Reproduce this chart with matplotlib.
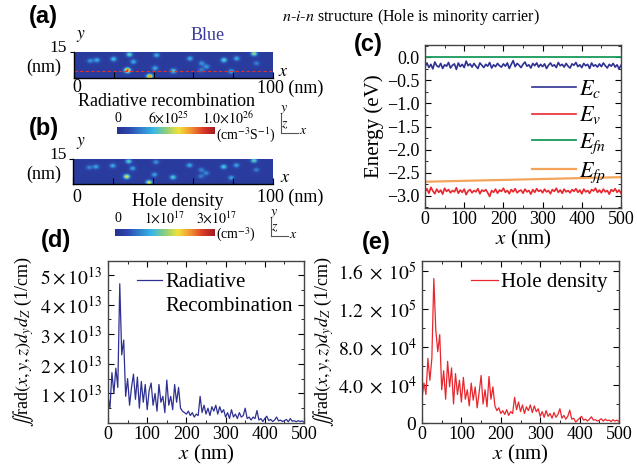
import numpy as np
import matplotlib
matplotlib.use('Agg')
from matplotlib import pyplot as plt
from matplotlib.colors import LinearSegmentedColormap
from matplotlib.lines import Line2D
from matplotlib.ticker import MultipleLocator, FixedLocator

plt.rcParams['font.family'] = ['Liberation Serif', 'DejaVu Serif']
plt.rcParams['mathtext.fontset'] = 'stix'

W, H = 637, 475

# hot spots in the 100 x 15 nm slice (nm), and their strength in each map
hot_x = [26.8, 38.0, 27.8, 19.8, 11.4, 8.0, 29.8, 41.5, 40.7, 50.0, 58.3, 64.2, 66.7, 75.4, 81.8, 79.2, 90.6, 91.8, 64.0]
hot_y = [4.4, 0.8, 13.7, 11.0, 10.4, 10.0, 9.4, 13.3, 5.6, 4.0, 11.3, 8.5, 6.5, 10.4, 11.3, 3.7, 14.2, 8.5, 4.6]
rad_amp = [0.85, 0.75, 0.42, 0.35, 0.30, 0.25, 0.30, 0.30, 0.30, 0.40, 0.30, 0.25, 0.25, 0.40, 0.30, 0.30, 0.50, 0.20, 0.20]
hole_amp = [0.62, 0.60, 0.40, 0.30, 0.28, 0.22, 0.28, 0.25, 0.28, 0.38, 0.30, 0.22, 0.22, 0.38, 0.28, 0.28, 0.42, 0.20, 0.20]

# band edges (eV) along x, 0..500 nm
ec = [-0.20, -0.12, -0.22, -0.15, -0.25, -0.10, -0.18, -0.21, -0.13, -0.24, -0.16, -0.19, -0.11, -0.23, -0.17,
      -0.14, -0.26, -0.12, -0.20, -0.15, -0.22, -0.08, -0.18, -0.14, -0.21, -0.13, -0.19, -0.24, -0.12, -0.17,
      -0.22, -0.15, -0.19, -0.11, -0.23, -0.16, -0.20, -0.13, -0.18, -0.21, -0.14, -0.19, -0.12, -0.24, -0.15,
      -0.07, -0.20, -0.13, -0.17, -0.22, -0.15, -0.10, -0.19, -0.16, -0.23, -0.13, -0.18, -0.12, -0.21, -0.15,
      -0.20, -0.14, -0.24, -0.17, -0.12, -0.19, -0.16, -0.22, -0.11, -0.18, -0.15, -0.21, -0.13, -0.19, -0.23,
      -0.14, -0.17, -0.11, -0.20, -0.16, -0.22, -0.13, -0.18, -0.15, -0.24, -0.12, -0.19, -0.16, -0.21, -0.14,
      -0.20, -0.12, -0.18, -0.23, -0.15, -0.19, -0.13, -0.21, -0.16, -0.25, -0.17]
ev = [-2.92, -2.85, -2.95, -2.82, -2.90, -2.96, -2.86, -2.93, -2.88, -2.97, -2.84, -2.91, -2.87, -2.94, -2.89,
      -2.92, -2.83, -2.95, -2.88, -2.93, -2.86, -2.98, -2.90, -2.87, -2.94, -2.89, -2.92, -2.85, -2.96, -2.88,
      -2.91, -2.87, -2.94, -3.02, -2.89, -2.93, -2.86, -2.95, -2.88, -2.91, -2.84, -2.93, -2.89, -2.96, -2.87,
      -2.92, -2.85, -2.94, -2.90, -2.88, -2.95, -2.86, -2.92, -2.89, -2.97, -2.87, -2.93, -2.85, -2.91, -2.88,
      -2.94, -2.86, -2.92, -2.89, -2.96, -2.87, -2.91, -2.84, -2.93, -2.88, -2.95, -2.86, -2.92, -2.89, -2.94,
      -2.87, -2.91, -2.85, -2.93, -2.88, -2.96, -2.86, -2.92, -2.89, -2.95, -2.87, -2.90, -2.84, -2.93, -2.88,
      -2.94, -2.86, -2.92, -2.89, -2.97, -2.87, -2.91, -2.85, -2.93, -2.88, -2.95]
fermi_x = [0, 500]
efn = [0.0, 0.0]
efp = [-2.70, -2.60]

# integrated profiles, 0..500 nm every 5 nm
rad_profile = [0.9, 0.5, 1.7, 1.0, 1.85, 1.2, 4.7, 2.3, 2.8, 0.9, 1.5, 0.6, 1.2, 1.65, 0.8, 1.55, 0.5, 1.4, 0.7, 1.3,
               0.45, 1.1, 1.35, 0.6, 1.0, 0.4, 1.3, 0.7, 0.9, 0.35, 1.45, 0.6, 0.9, 0.45, 1.3, 0.7, 1.2, 0.5, 0.4, 0.35,
               0.3, 0.4, 0.25, 0.35, 0.2, 0.3, 0.25, 0.9, 0.35, 0.6, 0.3, 0.5, 0.25, 0.55, 0.4, 0.6, 0.3, 0.55, 0.35, 0.45,
               0.2, 0.35, 0.15, 0.45, 0.2, 0.3, 0.15, 0.35, 0.2, 0.25, 0.5, 0.15, 0.2, 0.1, 0.2, 0.15, 0.42, 0.1, 0.15, 0.05,
               0.15, 0.23, 0.08, 0.12, 0.05, 0.1, 0.2, 0.07, 0.1, 0.05, 0.08, 0.12, 0.04, 0.15, 0.06, 0.08, 0.04, 0.08, 0.05,
               0.07, 0.03]  # x 1e13
hole_profile = [2.6, 4.2, 3.0, 6.8, 4.5, 6.8, 15.2, 9.8, 7.5, 9.3, 3.5, 5.5, 2.5, 6.5, 3.8, 5.8, 2.0, 5.2, 3.0, 4.5,
                2.2, 4.8, 2.5, 3.5, 1.8, 4.2, 2.4, 3.8, 1.6, 3.2, 5.0, 2.0, 3.5, 1.7, 4.9, 2.5, 3.8, 1.8, 1.3, 1.6,
                1.0, 1.3, 0.9, 1.4, 0.8, 1.2, 1.0, 2.7, 1.4, 2.2, 1.2, 1.9, 1.0, 1.7, 1.3, 1.9, 1.1, 1.8, 1.2, 1.5,
                0.7, 1.2, 0.6, 1.3, 0.7, 1.0, 0.5, 1.1, 0.6, 0.9, 1.5, 0.5, 0.8, 0.4, 0.7, 1.35, 0.4, 0.5, 0.1, 0.3,
                0.5, 0.7, 0.3, 0.4, 0.2, 0.4, 0.65, 0.3, 0.35, 0.2, 0.3, 0.45, 0.2, 0.4, 0.25, 0.3, 0.15, 0.35, 0.2,
                0.3, 0.15]  # x 1e4

cmap = LinearSegmentedColormap.from_list('jetlike', [
    (0.0, '#28308c'), (0.12, '#2c48b0'), (0.37, '#38b8e8'), (0.5, '#8ccf7c'),
    (0.63, '#f2e23c'), (0.76, '#f29030'), (0.88, '#dc3a2a'), (1.0, '#a01c20')])

fig = plt.figure(figsize=(6.37, 4.75), dpi=100)


def box(l, t, r, b):
    return [l / W, 1 - b / H, (r - l) / W, (b - t) / H]


def put(x, y, s, **kw):
    kw.setdefault('ha', 'center')
    kw.setdefault('va', 'center')
    fig.text(x / W, 1 - y / H, s, **kw)


def seg(x1, y1, x2, y2):
    fig.add_artist(Line2D([x1 / W, x2 / W], [1 - y1 / H, 1 - y2 / H], transform=fig.transFigure,
                          color='#555555', lw=0.8))


def slice_map(rect, amps, top, dashed=False):
    ax = fig.add_axes(rect)
    gx = np.linspace(0, 100, 400)
    gy = np.linspace(0, 15, 60)
    X, Y = np.meshgrid(gx, gy)
    Z = np.full_like(X, 0.06)
    for hx, hy, a in zip(hot_x, hot_y, amps):
        Z += a * np.exp(-((X - hx) ** 2 / 2.4 + (Y - hy) ** 2 / 2.0))
    ax.imshow(np.clip(Z, 0, 1), extent=[0, 100, 0, 15], origin='lower', aspect='auto',
              cmap=cmap, vmin=0, vmax=1, interpolation='bilinear')
    if dashed:
        ax.axhline(4.0, color='#e03030', ls=(0, (3, 2)), lw=0.8)
    for s in ('top', 'right'):
        ax.spines[s].set_visible(False)
    ax.spines['left'].set_linewidth(1.0)
    ax.spines['bottom'].set_linewidth(1.0)
    ax.set_xlim(0, 100)
    ax.set_ylim(0, 15)
    ax.set_xticks([0, 20, 40, 60, 80, 100])
    ax.set_yticks([15])
    ax.tick_params(axis='x', direction='in', length=4, labelbottom=False)
    ax.tick_params(axis='y', direction='out', length=3, labelleft=False)
    put(58, top - 4, '15', fontsize=12.5)
    put(44, top + 15, '(nm)', fontsize=13)
    put(81, top - 16, '$y$', fontsize=12.5)
    return ax


def colorbar(rect):
    ax = fig.add_axes(rect)
    ax.imshow(np.linspace(0, 1, 256)[np.newaxis, :], aspect='auto', cmap=cmap)
    ax.set_axis_off()


def axis_icon(x0, y0):
    seg(x0, y0 - 19, x0, y0)
    seg(x0, y0, x0 + 17, y0)
    put(x0 + 3, y0 - 23, '$y$', fontsize=10)
    put(x0 + 4, y0 - 8, '$z$', fontsize=10)
    put(x0 + 22, y0 - 2, '$x$', fontsize=10)


panel_font = dict(family='Liberation Sans', weight='bold', fontsize=17)

# title and panel labels
put(411, 17, r'$n$-$i$-$n$ structure (Hole is minority carrier)', fontsize=11.5)
put(43, 16, '(a)', **panel_font)
put(44, 128, '(b)', **panel_font)
put(368, 44, '(c)', **panel_font)
put(56, 240, '(d)', **panel_font)
put(376, 243, '(e)', **panel_font)

# (a) radiative recombination map
slice_map(box(74, 52, 273, 78), rad_amp, 52, dashed=True)
put(208, 35, 'Blue', fontsize=13, color='#3a3a9c')
put(283, 72, '$x$', fontsize=13)
put(77, 88, '0', fontsize=13)
put(257, 88, '100 (nm)', fontsize=13, ha='left')
put(167, 101, 'Radiative recombination', fontsize=13)
colorbar(box(117, 127, 215, 134))
put(118, 118, '0', fontsize=10)
put(168, 118, r'$6{\times}10^{25}$', fontsize=10)
put(228, 118, r'$1.0{\times}10^{26}$', fontsize=10)
put(216, 135, r'(cm$^{-3}$S$^{-1}$)', fontsize=10, ha='left')
axis_icon(281, 133)

# (b) hole density map
slice_map(box(73, 159, 273, 184), hole_amp, 159)
put(285, 178, '$x$', fontsize=13)
put(77, 197, '0', fontsize=13)
put(257, 197, '100 (nm)', fontsize=13, ha='left')
put(178, 201, 'Hole density', fontsize=13)
colorbar(box(115, 229, 215, 236))
put(118, 219, '0', fontsize=10)
put(165, 219, r'$1{\times}10^{17}$', fontsize=10)
put(217, 219, r'$3{\times}10^{17}$', fontsize=10)
put(216, 235, r'(cm$^{-3}$)', fontsize=10, ha='left')
axis_icon(271, 236)


def frame(ax):
    for s in ax.spines.values():
        s.set_color('#444444')
        s.set_linewidth(1.0)
    ax.tick_params(which='both', direction='in', top=True, right=True, labelsize=13, pad=2)
    ax.tick_params(which='major', length=4)
    ax.tick_params(which='minor', length=2)
    ax.set_xlim(0, 500)
    ax.xaxis.set_major_locator(MultipleLocator(100))
    ax.xaxis.set_minor_locator(MultipleLocator(50))
    ax.set_xlabel('$x$ (nm)', fontsize=15, labelpad=0)


# (c) band diagram
ax = fig.add_axes(box(425, 45, 621, 208))
ax.plot(np.linspace(0, 500, len(ec)), ec, color='#2e3192', lw=1.2, label='$E_c$')
ax.plot(np.linspace(0, 500, len(ev)), ev, color='#e8262d', lw=1.2, label='$E_v$')
ax.plot(fermi_x, efn, color='#1a9a5a', lw=1.3, label='$E_{fn}$')
ax.plot(fermi_x, efp, color='#f4a45a', lw=1.6, label='$E_{fp}$')
frame(ax)
ax.set_ylim(-3.27, 0.27)
ax.yaxis.set_major_locator(MultipleLocator(0.5))
ax.yaxis.set_minor_locator(MultipleLocator(0.25))
ax.tick_params(axis='y', pad=4)
ax.set_ylabel('Energy (eV)', fontsize=15, labelpad=2)
ax.legend(loc='upper left', bbox_to_anchor=(0.546, 0.80), frameon=False, fontsize=16,
          handlelength=2.0, handletextpad=0.1, labelspacing=0.22, borderpad=0, borderaxespad=0)

ylab = r'$\iint$rad$(x,y,z)d_y d_Z$ (1/cm)'

# (d) radiative recombination profile
ax = fig.add_axes(box(108, 261, 304, 423))
ax.plot(np.linspace(0, 500, len(rad_profile)), np.array(rad_profile) * 1e13, color='#2e3192', lw=0.9,
        label='Radiative')
frame(ax)
ax.set_ylim(0, 5.47e13)
ax.yaxis.set_major_locator(FixedLocator([1e13, 2e13, 3e13, 4e13, 5e13]))
ax.set_yticklabels([r'$%d\times10^{13}$' % k for k in range(1, 6)])
ax.yaxis.set_minor_locator(MultipleLocator(0.5e13))
ax.tick_params(axis='y', pad=4, labelsize=14)
ax.set_ylabel(ylab, fontsize=13, labelpad=3)
ax.legend(loc='upper left', bbox_to_anchor=(0.15, 0.93), frameon=False, fontsize=15,
          handlelength=1.2, handletextpad=0.15, borderpad=0, borderaxespad=0)
ax.text(0.292, 0.722, 'Recombination', transform=ax.transAxes, fontsize=15, va='center', ha='left')

# (e) hole density profile
ax = fig.add_axes(box(422, 261, 619, 423))
ax.plot(np.linspace(0, 500, len(hole_profile)), np.array(hole_profile) * 1e4, color='#e8262d', lw=0.9,
        label='Hole density')
frame(ax)
ax.set_ylim(0, 1.705e5)
ax.yaxis.set_major_locator(FixedLocator([0, 4e4, 8e4, 1.2e5, 1.6e5]))
ax.set_yticklabels(['0', r'$4.0 \;\times\; 10^4$', r'$8.0 \;\times\; 10^4$',
                    r'$1.2 \;\times\; 10^5$', r'$1.6 \;\times\; 10^5$'])
ax.yaxis.set_minor_locator(MultipleLocator(2e4))
ax.tick_params(axis='y', pad=4, labelsize=14)
ax.set_ylabel(ylab, fontsize=13, labelpad=1)
ax.legend(loc='upper left', bbox_to_anchor=(0.25, 0.93), frameon=False, fontsize=15,
          handlelength=1.3, handletextpad=0.15, borderpad=0, borderaxespad=0)

fig.savefig('out.png', dpi=100)
